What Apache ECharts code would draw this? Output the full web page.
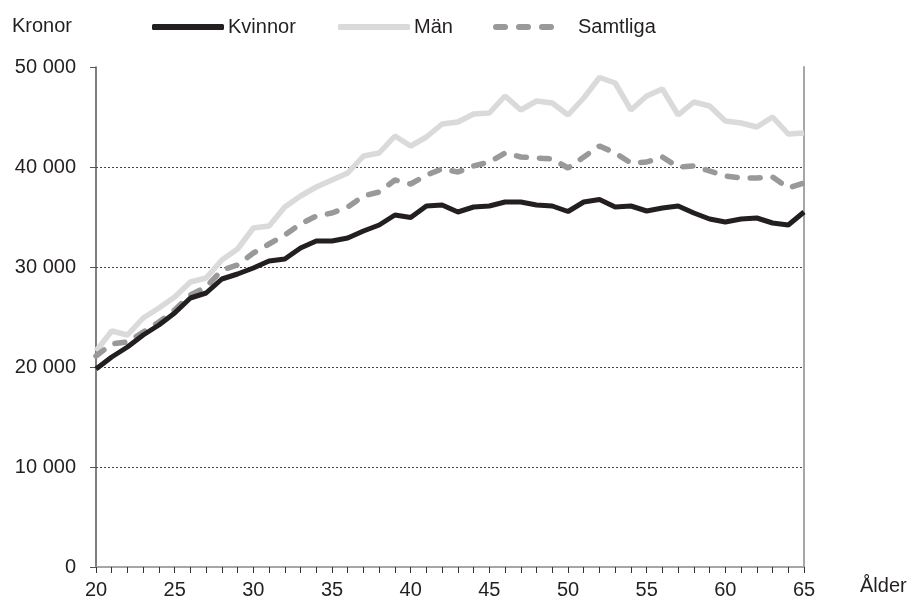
<!DOCTYPE html>
<html>
<head>
<meta charset="utf-8">
<script src="https://cdn.jsdelivr.net/npm/echarts@6/dist/echarts.min.js"></script>
<style>
  html, body { margin: 0; padding: 0; background: #fff; }
  #chart { width: 915px; height: 602px; }
</style>
</head>
<body>
<div id="chart"></div>
<script>
// ålder 20..65
const ages = [];
for (let a = 20; a <= 65; a++) ages.push(String(a));

const kvinnor = [19800, 21000, 22000, 23200, 24200, 25400, 26900, 27400, 28800, 29300,
  29900, 30600, 30800, 31900, 32600, 32600, 32900, 33600, 34200, 35200,
  34950, 36100, 36200, 35500, 36000, 36100, 36500, 36500, 36200, 36100,
  35550, 36500, 36750, 36000, 36100, 35600, 35900, 36100, 35400, 34800,
  34500, 34800, 34900, 34400, 34200, 35500];
const man = [21600, 23600, 23200, 24900, 25900, 27000, 28500, 28900, 30700, 31800,
  33900, 34100, 36000, 37100, 38000, 38700, 39400, 41100, 41400, 43100,
  42100, 43000, 44300, 44500, 45300, 45400, 47100, 45700, 46600, 46400,
  45200, 46900, 48950, 48400, 45700, 47100, 47800, 45200, 46500, 46100,
  44600, 44400, 44000, 45000, 43300, 43400];
const samtliga = [21100, 22300, 22500, 23500, 24500, 25700, 27200, 28000, 29700, 30200,
  31400, 32300, 33200, 34300, 35100, 35400, 36000, 37100, 37500, 38700,
  38300, 39200, 39800, 39500, 40100, 40500, 41400, 41000, 40900, 40800,
  39900, 41000, 42100, 41400, 40400, 40500, 41000, 40000, 40100, 39600,
  39100, 38900, 38900, 39000, 37900, 38400];

const font = 'Liberation Sans, Arial, sans-serif';
const txt = '#231f20';
const fmt = v => String(v).replace(/\B(?=(\d{3})+(?!\d))/g, ' ');

const chart = echarts.init(document.getElementById('chart'));
const legendText = { fontFamily: font, fontSize: 20, color: txt, padding: [0, 0, 0, -1] };
const legendBase = { top: 17, padding: 0, itemWidth: 72, itemHeight: 6, itemGap: 0, icon: 'roundRect', textStyle: legendText };
chart.setOption({
  animation: false,
  textStyle: { fontFamily: font },
  grid: { left: 96, right: 111, top: 67, bottom: 35, containLabel: false },
  legend: [
    Object.assign({}, legendBase, { left: 152, data: ['Kvinnor'] }),
    Object.assign({}, legendBase, { left: 338, data: ['Män'] }),
    Object.assign({}, legendBase, {
      left: 493, itemWidth: 61,
      icon: 'path://M3,0h9a3,3 0 0 1 0,6h-9a3,3 0 0 1 0,-6z M26,0h9a3,3 0 0 1 0,6h-9a3,3 0 0 1 0,-6z M49,0h9a3,3 0 0 1 0,6h-9a3,3 0 0 1 0,-6z',
      textStyle: Object.assign({}, legendText, { padding: [0, 0, 0, 19] }),
      data: ['Samtliga']
    })
  ],
  graphic: [
    { type: 'text', left: 12, top: 16, style: { text: 'Kronor', font: '20px ' + font, fill: txt } },
    { type: 'text', left: 860, top: 576, style: { text: 'Ålder', font: '20px ' + font, fill: txt } }
  ],
  xAxis: [
    {
      type: 'category', data: ages, boundaryGap: false,
      axisLine: { lineStyle: { color: '#333', width: 1.5 } },
      axisTick: { show: true, inside: false, length: 6, interval: 0, lineStyle: { color: '#333' } },
      axisLabel: { interval: 4, color: txt, fontSize: 20, margin: 13, fontFamily: font },
      splitLine: { show: false }
    },
    {
      type: 'category', data: ages, boundaryGap: false, position: 'top',
      axisLine: { lineStyle: { color: '#a6a6a6', width: 2 } },
      axisTick: { show: false }, axisLabel: { show: false }
    }
  ],
  yAxis: [
    {
      type: 'value', min: 0, max: 50000, interval: 10000,
      axisLine: { show: true, lineStyle: { color: '#555', width: 1.5 } },
      axisTick: { show: true, length: 6, lineStyle: { color: '#555' } },
      axisLabel: { color: txt, fontSize: 20, margin: 20, fontFamily: font, formatter: fmt },
      splitLine: { show: true, showMinLine: false, showMaxLine: false,
        lineStyle: { color: '#444', width: 1, type: [2, 2] } }
    },
    {
      type: 'value', min: 0, max: 50000, interval: 10000, position: 'right',
      axisLine: { show: true, lineStyle: { color: '#a6a6a6', width: 2 } },
      axisTick: { show: false }, axisLabel: { show: false }, splitLine: { show: false }
    }
  ],
  series: [
    {
      name: 'Män', type: 'line', data: man, symbol: 'none', z: 2,
      lineStyle: { color: '#dadada', width: 5.5 }, itemStyle: { color: '#dadada' }
    },
    {
      name: 'Samtliga', type: 'line', data: samtliga, symbol: 'none', z: 3,
      lineStyle: { color: '#999999', width: 5.5, type: [10, 13], cap: 'round' },
      itemStyle: { color: '#999999' }
    },
    {
      name: 'Kvinnor', type: 'line', data: kvinnor, symbol: 'none', z: 4,
      lineStyle: { color: '#231f20', width: 5 }, itemStyle: { color: '#231f20' }
    }
  ]
});
</script>
</body>
</html>
